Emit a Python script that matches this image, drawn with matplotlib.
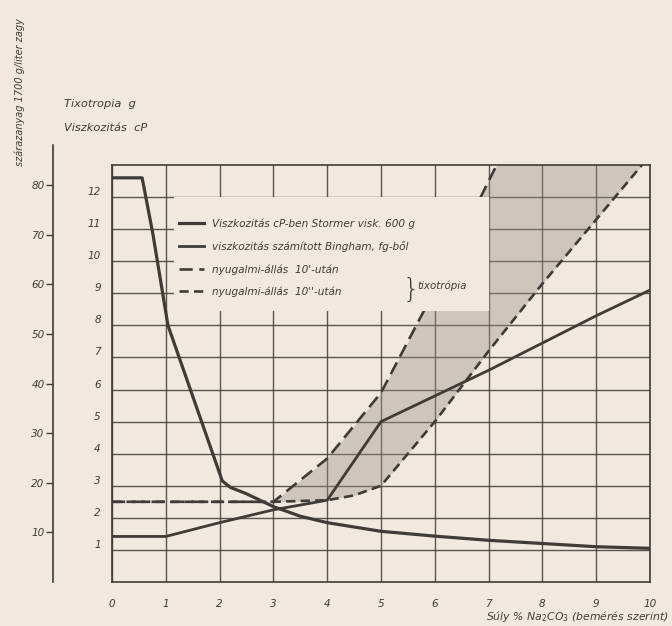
"""
Viszkozitás és tixotrópia a Na2CO3 adagolás függvényében (régi szkennelt ábra).
"""
import numpy as np
from matplotlib import pyplot as plt
from matplotlib.patches import Rectangle

# Global Vars
paper = '#f1e9e0'
ink = '#403b36'

# viszkozitás cP-ben (Stormer) - lefelé menő görbe
visk_x = [0, 0.56, 0.76, 1.04, 1.54, 2.05, 2.2, 2.5, 3, 3.5, 4, 5, 6, 7, 8, 9, 10]
visk_y = [12.6, 12.6, 10.85, 8.0, 5.6, 3.15, 2.95, 2.75, 2.35, 2.05, 1.85, 1.58, 1.43, 1.3, 1.2, 1.1, 1.05]

# viszkozitás számított - felfelé menő görbe
szam_x = [0, 1, 2, 2.5, 3, 3.5, 4, 5, 6, 7, 8, 9, 10]
szam_y = [1.42, 1.42, 1.85, 2.05, 2.25, 2.4, 2.55, 5.0, 5.8, 6.6, 7.45, 8.3, 9.1]

# tixotrópia, 10' után (hosszú szaggatott)
tix10p_x = [0, 3, 4, 5, 6, 7, 7.3]
tix10p_y = [2.5, 2.5, 3.85, 5.9, 9.1, 12.5, 13.5]

# tixotrópia, 10'' után (rövid szaggatott)
tix10s_x = [0, 3, 4, 4.5, 5, 6, 7, 8, 9, 10]
tix10s_y = [2.5, 2.5, 2.55, 2.7, 3.0, 5.0, 7.2, 9.3, 11.3, 13.3]

x_ticks = list(range(0, 11))
cp_ticks = list(range(1, 13))
g_ticks = [10, 20, 30, 40, 50, 60, 70, 80]

plt.rcParams['font.family'] = ['DejaVu Sans']
tick_font = {'style': 'italic', 'size': 7.5, 'color': ink}

fig = plt.figure(figsize=(6.72, 6.26), dpi=100, facecolor=paper)
W, H = 672, 626
ax = fig.add_axes([112 / W, (H - 582) / H, (650 - 112) / W, (582 - 165) / H])
ax.set_facecolor(paper)
ax.set_xlim(0, 10)
ax.set_ylim(0, 13)

# racsozat
ax.set_xticks(x_ticks)
ax.set_yticks(cp_ticks)
ax.grid(True, color=ink, lw=1.0, alpha=0.85, zorder=1)
ax.set_axisbelow(True)
for s in ax.spines.values():
	s.set_color(ink)
	s.set_linewidth(1.2)
ax.tick_params(axis='x', length=0, pad=12, labelcolor=ink)
ax.tick_params(axis='y', length=0, pad=8, labelcolor=ink)
ax.set_xticklabels([str(v) for v in x_ticks], fontdict=tick_font)
ax.set_yticklabels([str(v) for v in cp_ticks], fontdict=tick_font, va='bottom')

# satirozott terulet a ket tixotropia gorbe kozott
xx = np.linspace(3, 10, 200)
upper = np.interp(xx, tix10p_x, tix10p_y, right=20)
lower = np.interp(xx, tix10s_x, tix10s_y)
ax.fill_between(xx, lower, upper, color='#9a928a', alpha=0.4, lw=0, zorder=2)

l1, = ax.plot(visk_x, visk_y, color=ink, lw=2.3, zorder=5, solid_joinstyle='round')
l2, = ax.plot(szam_x, szam_y, color=ink, lw=2.0, zorder=5)
l3, = ax.plot(tix10p_x, tix10p_y, color=ink, lw=1.9, dashes=(5, 2.5), zorder=5)
l4, = ax.plot(tix10s_x, tix10s_y, color=ink, lw=1.9, dashes=(3.5, 2), zorder=5)

# jelmagyarazat hattere takarja a racsot
ax.add_patch(Rectangle((1.15, 8.45), 7.0 - 1.15, 12.0 - 8.45, facecolor=paper,
                       edgecolor='none', zorder=6))
leg = ax.legend([l1, l2, l3, l4],
                ['Viszkozitás cP-ben Stormer visk. 600 g',
                 'viszkozitás számított Bingham, fg-ből',
                 'nyugalmi-állás  10\'-után',
                 'nyugalmi-állás  10\'\'-után'],
                loc='upper left', bbox_to_anchor=(1.1, 11.57),
                bbox_transform=ax.transData, frameon=False, handlelength=2.4,
                handletextpad=0.8, labelspacing=1.15, borderpad=0.2,
                prop={'style': 'italic', 'size': 7.6})
for t in leg.get_texts():
	t.set_color(ink)
leg.set_zorder(7)
ax.text(5.4, 9.12, '}', fontsize=19, color=ink, ha='left', va='center',
        zorder=8, fontweight='light')
ax.text(5.68, 9.24, 'tixotrópia', fontsize=7.4, style='italic', color=ink,
        ha='left', va='center', zorder=8)

# kulso tengely (tixotropia g)
ax2 = fig.add_axes([53 / W, (H - 582) / H, 0.001, (582 - 145) / H])
ax2.set_ylim(0, (582 - 145) / 4.96)
ax2.set_xticks([])
ax2.patch.set_visible(False)
for k in ['top', 'right', 'bottom']:
	ax2.spines[k].set_visible(False)
ax2.spines['left'].set_color(ink)
ax2.spines['left'].set_linewidth(1.2)
ax2.set_yticks(g_ticks)
ax2.set_yticklabels([str(v) for v in g_ticks], fontdict=tick_font)
ax2.tick_params(axis='y', length=5, width=1, color=ink, pad=1)

fig.text(64 / W, 1 - 104 / H, 'Tixotropia  g', fontsize=8.2, style='italic',
         color=ink, va='center')
fig.text(64 / W, 1 - 128 / H, 'Viszkozitás  cP', fontsize=8.2, style='italic',
         color=ink, va='center')
fig.text(20 / W, 1 - 92 / H, 'szárazanyag 1700 g/liter zagy', fontsize=7,
         style='italic', color=ink, rotation=90, ha='center', va='center')
fig.text(669 / W, 1 - 617 / H, 'Súly % Na$_2$CO$_3$ (bemérés szerint)',
         fontsize=7.8, style='italic', color=ink, ha='right', va='center')

fig.savefig('out.png', dpi=100, facecolor=paper)
